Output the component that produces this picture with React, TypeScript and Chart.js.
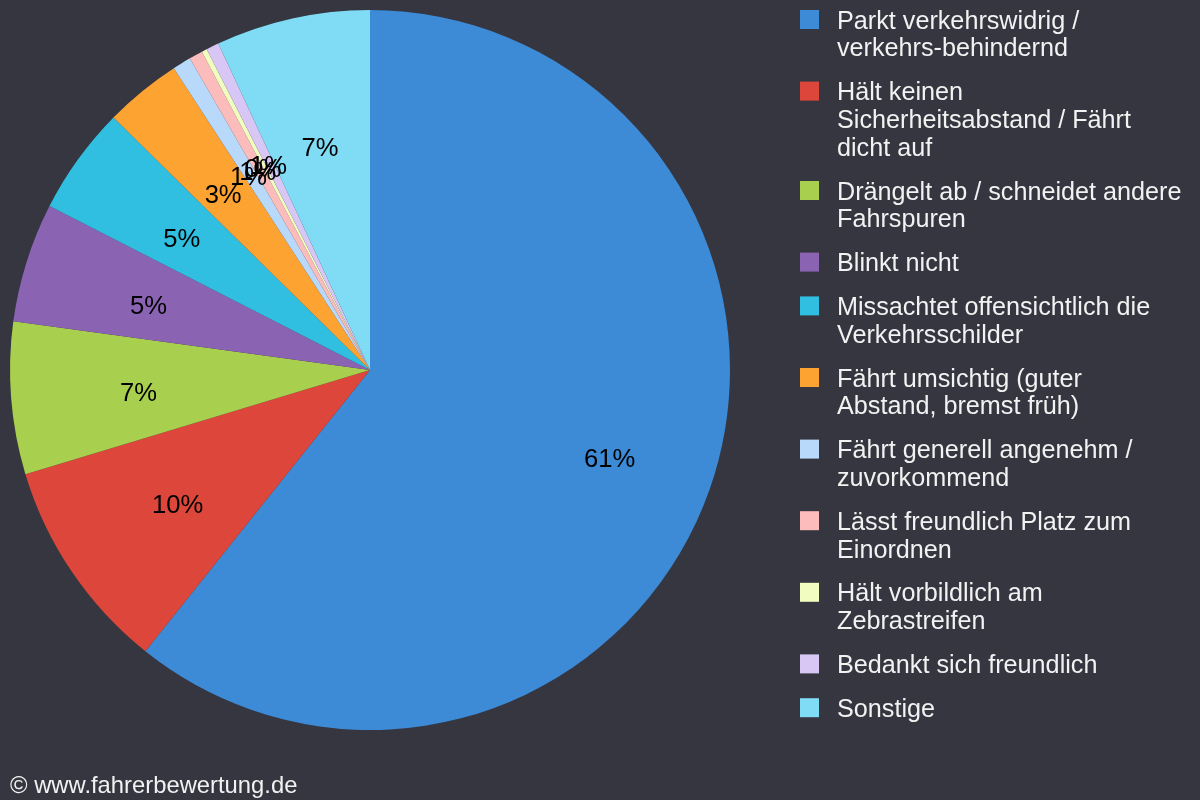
import React, { useEffect, useRef } from "react";
import { Chart, registerables } from "chart.js";

Chart.register(...registerables);

// Category names (legend lines as shown in the reference)
const categories: string[][] = [
  ["Parkt verkehrswidrig /", "verkehrs-behindernd"],
  ["Hält keinen", "Sicherheitsabstand / Fährt", "dicht auf"],
  ["Drängelt ab / schneidet andere", "Fahrspuren"],
  ["Blinkt nicht"],
  ["Missachtet offensichtlich die", "Verkehrsschilder"],
  ["Fährt umsichtig (guter", "Abstand, bremst früh)"],
  ["Fährt generell angenehm /", "zuvorkommend"],
  ["Lässt freundlich Platz zum", "Einordnen"],
  ["Hält vorbildlich am", "Zebrastreifen"],
  ["Bedankt sich freundlich"],
  ["Sonstige"],
];

// Share of each category in percent
const shares: number[] = [60.7, 9.6, 6.83, 5.36, 4.85, 3.45, 0.83, 0.61, 0.24, 0.57, 6.92];

const sliceColors: string[] = [
  "#3d8ad7",
  "#dd473b",
  "#a8cf4e",
  "#8a63b2",
  "#30bfe0",
  "#fda332",
  "#b9d9fb",
  "#fdbcbc",
  "#f1fcc0",
  "#d8c7f4",
  "#80dcf4",
];

const footerText = "© www.fahrerbewertung.de";

const BG = "#35363f";
const TEXT = "#f2f2f2";
const FONT = "'Liberation Sans', Arial, sans-serif";

const sliceLabelPlugin = {
  id: "sliceLabels",
  afterDatasetsDraw(chart: any) {
    const ctx = chart.ctx as CanvasRenderingContext2D;
    const meta = chart.getDatasetMeta(0);
    const data = chart.data.datasets[0].data as number[];
    const total = data.reduce((a, b) => a + b, 0);
    ctx.save();
    ctx.font = `25.6px ${FONT}`;
    ctx.fillStyle = "#000000";
    ctx.textAlign = "center";
    ctx.textBaseline = "middle";
    meta.data.forEach((arc: any, i: number) => {
      const p = arc.getProps(["x", "y", "startAngle", "endAngle", "outerRadius"], true);
      const frac = data[i] / total;
      const mid = (p.startAngle + p.endAngle) / 2;
      const r = p.outerRadius * (frac > 0.5 ? 0.705 : 0.645);
      const tx = p.x + Math.cos(mid) * r;
      const ty = p.y + Math.sin(mid) * r + 6;
      ctx.fillText(`${Math.round(frac * 100)}%`, tx, ty);
    });
    ctx.restore();
  },
};

const legendPlugin = {
  id: "sideLegend",
  beforeDraw(chart: any) {
    const ctx = chart.ctx as CanvasRenderingContext2D;
    ctx.save();
    ctx.fillStyle = BG;
    ctx.fillRect(0, 0, chart.width, chart.height);
    ctx.restore();
  },
  afterDraw(chart: any) {
    const ctx = chart.ctx as CanvasRenderingContext2D;
    ctx.save();
    ctx.font = `25.2px ${FONT}`;
    ctx.textAlign = "left";
    ctx.textBaseline = "alphabetic";
    const lineH = 27.8;
    const gap = 16;
    let top = 10;
    categories.forEach((lines, i) => {
      ctx.fillStyle = sliceColors[i];
      ctx.fillRect(800, top, 19, 19);
      ctx.fillStyle = TEXT;
      lines.forEach((ln, k) => {
        ctx.fillText(ln, 837, top + 18.5 + k * lineH);
      });
      top += lines.length * lineH + gap;
    });
    ctx.font = `23.8px ${FONT}`;
    ctx.fillStyle = TEXT;
    ctx.fillText(footerText, 10, 793);
    ctx.restore();
  },
};

export default function App() {
  const canvasRef = useRef<HTMLCanvasElement | null>(null);

  useEffect(() => {
    document.body.style.margin = "0";
    document.body.style.background = BG;
    const canvas = canvasRef.current;
    if (!canvas) return;
    const chart = new Chart(canvas, {
      type: "pie",
      data: {
        labels: categories.map((l) => l.join(" ")),
        datasets: [
          {
            data: shares,
            backgroundColor: sliceColors,
            borderWidth: 0,
          },
        ],
      },
      options: {
        responsive: false,
        animation: false,
        devicePixelRatio: 1,
        layout: {
          padding: { left: 10, top: 10, right: 470, bottom: 70 },
        },
        plugins: {
          legend: { display: false },
          tooltip: { enabled: false },
        },
      },
      plugins: [sliceLabelPlugin, legendPlugin],
    });
    return () => chart.destroy();
  }, []);

  return (
    <div style={{ position: "fixed", left: 0, top: 0, width: 1200, height: 800, background: BG }}>
      <canvas ref={canvasRef} width={1200} height={800} style={{ width: 1200, height: 800, display: "block" }} />
    </div>
  );
}
